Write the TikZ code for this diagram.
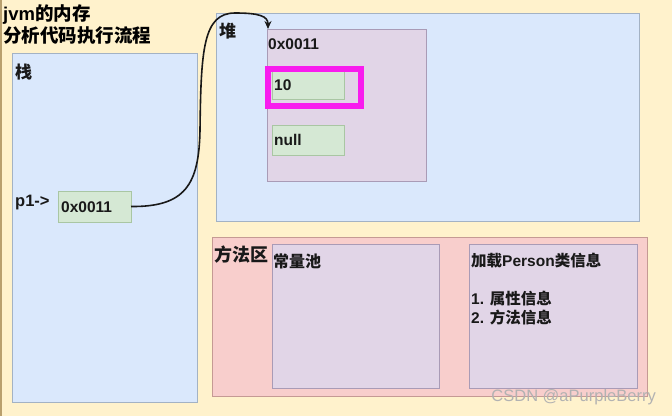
\documentclass[tikz,border=0pt]{standalone}
\usepackage{fontspec}
\setmainfont{Liberation Sans}
\newfontfamily\cjk{Noto Sans CJK SC}
\usetikzlibrary{arrows.meta}
\newcommand{\zh}[1]{{\cjk #1}}
\definecolor{bgc}{HTML}{FFF2CC}
\definecolor{bluef}{HTML}{DAE8FC}
\definecolor{blued}{HTML}{A3B2C4}
\definecolor{purf}{HTML}{E1D5E7}
\definecolor{purd}{HTML}{A99BB6}
\definecolor{grnf}{HTML}{D5E8D4}
\definecolor{grnd}{HTML}{A9C6A3}
\definecolor{redf}{HTML}{F8CECC}
\definecolor{redd}{HTML}{C59A94}
\definecolor{hil}{HTML}{F81CEE}
\begin{document}
\begin{tikzpicture}[x=1pt,y=-1pt,
  box/.style={draw, inner sep=0pt, outer sep=0pt, anchor=north west, line width=1pt},
  bluebox/.style={box, fill=bluef, draw=blued},
  purbox/.style={box, fill=purf, draw=purd},
  grnbox/.style={box, fill=grnf, draw=grnd},
  redbox/.style={box, fill=redf, draw=redd},
  lbl/.style={anchor=west, inner sep=0pt, font=\bfseries\fontsize{15.5}{18}\selectfont, text=black!90},
  zhlbl/.style={anchor=west, inner sep=0pt, font=\bfseries\fontsize{16}{19}\selectfont, text=black!90}]
\fill[bgc] (0,0) rectangle (672,416);
\useasboundingbox (0,0) rectangle (672,416);
\draw[line width=1.5pt, color={rgb,255:red,185;green,160;blue,110}] (0.75,0) -- (0.75,416);

% title
\node[anchor=west, inner sep=0pt, align=left, font=\bfseries\fontsize{18.5}{22}\selectfont] (title) at (3,25)
  {jvm\zh{的内存}\\\zh{分析代码执行流程}};

% stack
\node[bluebox, minimum width=185pt, minimum height=349pt] (stack) at (12,53) {};
\node[zhlbl, font=\bfseries\fontsize{17}{20}\selectfont] (stacklbl) at (15,72) {\zh{栈}};
\node[lbl, font=\bfseries\fontsize{16.5}{19}\selectfont] (p1) at (15,203) {p1->};
\node[grnbox, minimum width=73pt, minimum height=31pt] (ptr) at (58,191) {};
\node[lbl] (ptrtxt) at (61,207) {0x0011};

% heap
\node[bluebox, minimum width=423pt, minimum height=208pt] (heap) at (216,13) {};
\node[zhlbl, font=\bfseries\fontsize{17}{20}\selectfont] (heaplbl) at (219,31) {\zh{堆}};
\node[purbox, minimum width=159pt, minimum height=152pt] (obj) at (267,29) {};
\node[lbl] (objtxt) at (268,44) {0x0011};
\node[grnbox, minimum width=72pt, minimum height=30pt] (ten) at (272,69) {};
\node[lbl] (tentxt) at (274,85) {10};
\node[grnbox, minimum width=72pt, minimum height=30pt] (nul) at (272,125) {};
\node[lbl] (nultxt) at (274,140) {null};
\node[draw=hil, line width=6.5pt, inner sep=0pt, anchor=north west, minimum width=93pt, minimum height=37pt] (hl) at (264.5,65.5) {};

% method area
\node[redbox, minimum width=435pt, minimum height=159pt] (method) at (212,237) {};
\node[zhlbl, font=\bfseries\fontsize{18}{20}\selectfont] (methodlbl) at (214,255) {\zh{方法区}};
\node[purbox, minimum width=167pt, minimum height=144pt] (pool) at (272,244) {};
\node[zhlbl] (pooltxt) at (273,261) {\zh{常量池}};
\node[purbox, minimum width=168pt, minimum height=144pt] (person) at (469,244) {};
\node[lbl] (persontxt) at (471,261) {\zh{加载}Person\zh{类信息}};
\node[lbl] (attr) at (471,299) {1. \zh{属性信息}};
\node[lbl] (meth) at (471,318) {2. \zh{方法信息}};

% arrow
\coordinate (tip) at (268,29);
\draw[line width=1.6pt, black!90, -{Stealth[length=8pt,width=7pt]}]
  (ptr.east) .. controls (185,207) and (199,185) .. (200,130)
  .. controls (201,50) and (203,13) .. (235,13)
  .. controls (259,13) and (268,16) .. (tip);

% watermark
\node[anchor=east, inner sep=0pt, font=\fontsize{16.5}{19}\selectfont, text=gray!60] (wm) at (656,397) {CSDN @aPurpleBerry};
\end{tikzpicture}
\end{document}
